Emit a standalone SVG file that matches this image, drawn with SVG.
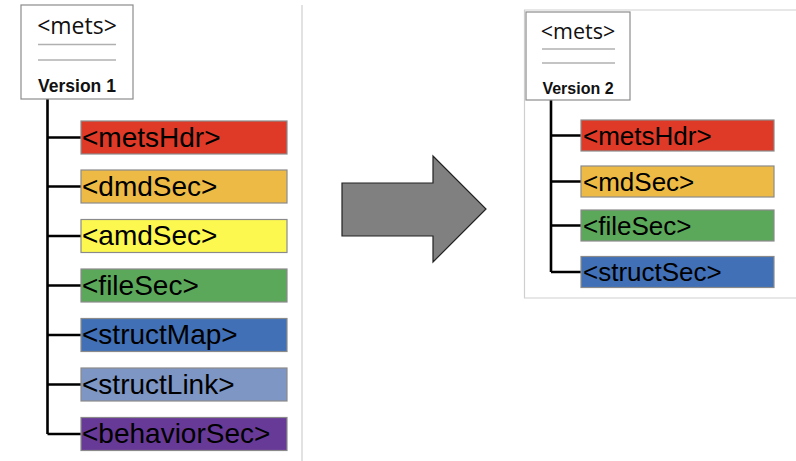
<svg xmlns="http://www.w3.org/2000/svg" width="796" height="461" viewBox="0 0 796 461">
<style>
.bg{fill:#fff}
.sep{stroke:#cfcfcf;stroke-width:1.2;fill:none}
.mets{fill:#fff;stroke:#8c8c8c;stroke-width:1.2}
.rule{stroke:#b0b0b0;stroke-width:1.3}
.mt{font-family:"Open Sans","Noto Sans",sans-serif;fill:#111;text-anchor:middle}
.ver{font-family:"Liberation Sans",Arial,sans-serif;font-weight:bold;fill:#111;text-anchor:middle}
.box{stroke:#8a8a8a;stroke-width:1.2}
.lbl{font-family:"Liberation Sans",Arial,sans-serif;fill:#000}
.l1{font-size:28px}
.l2{font-size:26px}
.tree{stroke:#000;stroke-width:2.6;fill:none}
</style>
<rect class="bg" x="0" y="0" width="796" height="461"/>
<line class="sep" x1="302" y1="5" x2="302" y2="461"/>
<path class="sep" d="M797,10 H524.5 V298 H797"/>

<g id="connectors">
  <path class="tree" d="M47.5,99 V434 M47.5,137.5 H81 M47.5,186.5 H81 M47.5,236 H81 M47.5,285.5 H81 M47.5,335 H81 M47.5,384.5 H81 M47.5,434 H81"/>
  <path class="tree" d="M551,100 V272 M551,135.5 H581 M551,181.5 H581 M551,225.5 H581 M551,272 H581"/>
</g>

<g id="mets-v1">
  <rect class="mets" x="21" y="5" width="112" height="94"/>
  <text class="mt" x="77" y="34" font-size="23">&lt;mets&gt;</text>
  <line class="rule" x1="38" y1="44.5" x2="116" y2="44.5"/>
  <line class="rule" x1="38" y1="60" x2="116" y2="60"/>
  <text class="ver" x="77" y="92" font-size="17.5">Version 1</text>
</g>
<g id="v1-metsHdr"><rect class="box" x="81" y="121" width="206" height="33" fill="#DE3A27"/><text class="lbl l1" x="82" y="146.5">&lt;metsHdr&gt;</text></g>
<g id="v1-dmdSec"><rect class="box" x="81" y="170" width="206" height="33" fill="#EDBB45"/><text class="lbl l1" x="82" y="195.5">&lt;dmdSec&gt;</text></g>
<g id="v1-amdSec"><rect class="box" x="81" y="219.5" width="206" height="33" fill="#FCF850"/><text class="lbl l1" x="82" y="245">&lt;amdSec&gt;</text></g>
<g id="v1-fileSec"><rect class="box" x="81" y="269" width="206" height="33" fill="#5CA85B"/><text class="lbl l1" x="82" y="294.5">&lt;fileSec&gt;</text></g>
<g id="v1-structMap"><rect class="box" x="81" y="318.5" width="206" height="33" fill="#4170B7"/><text class="lbl l1" x="82" y="344">&lt;structMap&gt;</text></g>
<g id="v1-structLink"><rect class="box" x="81" y="368" width="206" height="33" fill="#7E96C3"/><text class="lbl l1" x="82" y="393.5">&lt;structLink&gt;</text></g>
<g id="v1-behaviorSec"><rect class="box" x="81" y="417.5" width="206" height="33" fill="#683A97"/><text class="lbl l1" x="82" y="443">&lt;behaviorSec&gt;</text></g>

<g id="arrow">
  <polygon points="342,183 433,183 433,156 486,209 433,262 433,236 342,236" fill="#808080" stroke="#222" stroke-width="1.2"/>
</g>

<g id="mets-v2">
  <rect class="mets" x="526" y="12" width="104" height="88"/>
  <text class="mt" x="578" y="39" font-size="21.5">&lt;mets&gt;</text>
  <line class="rule" x1="542" y1="49" x2="615" y2="49"/>
  <line class="rule" x1="542" y1="63" x2="615" y2="63"/>
  <text class="ver" x="578" y="94" font-size="16">Version 2</text>
</g>
<g id="v2-metsHdr"><rect class="box" x="581" y="120" width="193" height="31" fill="#DE3A27"/><text class="lbl l2" x="583" y="144.5">&lt;metsHdr&gt;</text></g>
<g id="v2-mdSec"><rect class="box" x="581" y="166" width="193" height="31" fill="#EDBB45"/><text class="lbl l2" x="583" y="190.5">&lt;mdSec&gt;</text></g>
<g id="v2-fileSec"><rect class="box" x="581" y="210" width="193" height="31" fill="#5CA85B"/><text class="lbl l2" x="583" y="234.5">&lt;fileSec&gt;</text></g>
<g id="v2-structSec"><rect class="box" x="581" y="256.5" width="193" height="31" fill="#4170B7"/><text class="lbl l2" x="583" y="281">&lt;structSec&gt;</text></g>
</svg>
